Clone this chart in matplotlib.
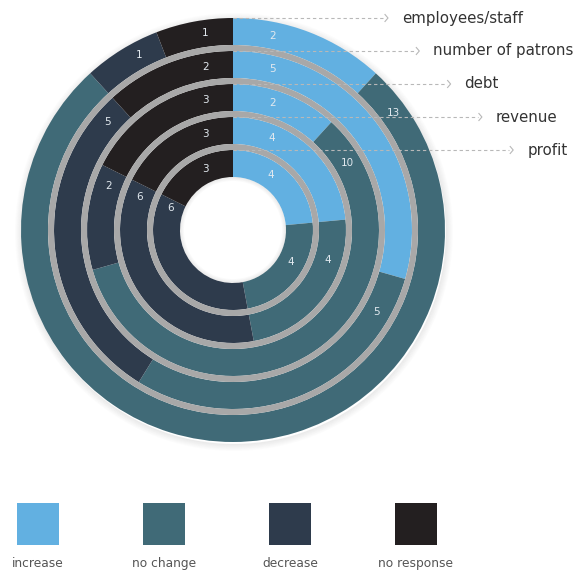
import numpy as np
import matplotlib.pyplot as plt
from matplotlib.patches import Wedge, Rectangle

W, H = 579, 572

# data (one ring per measure, from outside to inside)
rings = ["employees/staff", "number of patrons", "debt", "revenue", "profit"]
categories = ["increase", "no change", "decrease", "no response"]
increase = [2, 5, 2, 4, 4]
no_change = [13, 5, 10, 4, 4]
decrease = [1, 5, 2, 6, 6]
no_response = [1, 2, 3, 3, 3]

colors = ["#62b0e1", "#406a77", "#2e3b4c", "#231f20"]
sep_color = "#a8a8a8"

# geometry in pixels
cx, cy = 233, H - 230
r_out = 212
ring_w = 27
gap = 6
pitch = ring_w + gap

fig = plt.figure(figsize=(W / 100, H / 100), dpi=100)
ax = fig.add_axes([0, 0, 1, 1])

# soft shadow around the disc
for k in range(7):
    ax.add_patch(Wedge((cx + 1, cy - 2), r_out + k + 1, 0, 360, width=1.2,
                       color="k", alpha=0.07 * (1 - k / 7), lw=0, zorder=0))

table = np.array([increase, no_change, decrease, no_response]).T

for i, name in enumerate(rings):
    r = r_out - pitch * i
    vals = table[i]
    ax.pie(vals, radius=r, center=(cx, cy), startangle=90, counterclock=False,
           colors=colors, wedgeprops=dict(width=ring_w, linewidth=0))
    # gray separator below this ring
    if i < len(rings) - 1:
        ax.add_patch(Wedge((cx, cy), r - ring_w, 0, 360, width=gap,
                           color=sep_color, lw=0, zorder=3))

    # value labels
    rm = r - ring_w / 2
    ends = np.cumsum(vals) / vals.sum() * 360
    starts = ends - vals / vals.sum() * 360
    for j, v in enumerate(vals):
        if j < 2:
            a = starts[j] + np.degrees(40 / rm)
        elif j == 2:
            a = ends[j] - 7
        else:
            a = ends[j] - np.degrees(28 / rm)
        t = np.radians(90 - a)
        ax.text(cx + rm * np.cos(t), cy + rm * np.sin(t), str(v), color="#e2e9ef",
                fontsize=7.5, ha="center", va="center", zorder=4)

    # leader line and name
    y = cy + r
    x_tip = 388 + 31.3 * i
    ax.plot([cx, x_tip - 4], [y, y], ls=(0, (3, 2.5)), color="#b8b8b8", lw=0.8, zorder=5)
    ax.plot([x_tip - 3, x_tip, x_tip - 3], [y + 3.5, y, y - 3.5], color="#b8b8b8",
            lw=0.8, zorder=5)
    ax.text(x_tip + 14, y, name, fontsize=10.8, color="#333333", ha="left",
            va="center", zorder=5)

# inner hole shadow
r_in = r_out - pitch * (len(rings) - 1) - ring_w
for k in range(4):
    ax.add_patch(Wedge((cx, cy), r_in - k, 0, 360, width=1, color="k",
                       alpha=0.08 * (1 - k / 4), lw=0, zorder=4))

# legend
for j, lab in enumerate(categories):
    x0 = 17 + 126 * j
    ax.add_patch(Rectangle((x0, H - 545), 42, 42, color=colors[j], lw=0))
    ax.text(x0 + 21, H - 567, lab, fontsize=8.8, color="#555555", ha="center",
            va="baseline")

ax.set_xlim(0, W)
ax.set_ylim(0, H)
ax.set_aspect("equal")
ax.axis("off")

fig.savefig("out.png", dpi=100)
